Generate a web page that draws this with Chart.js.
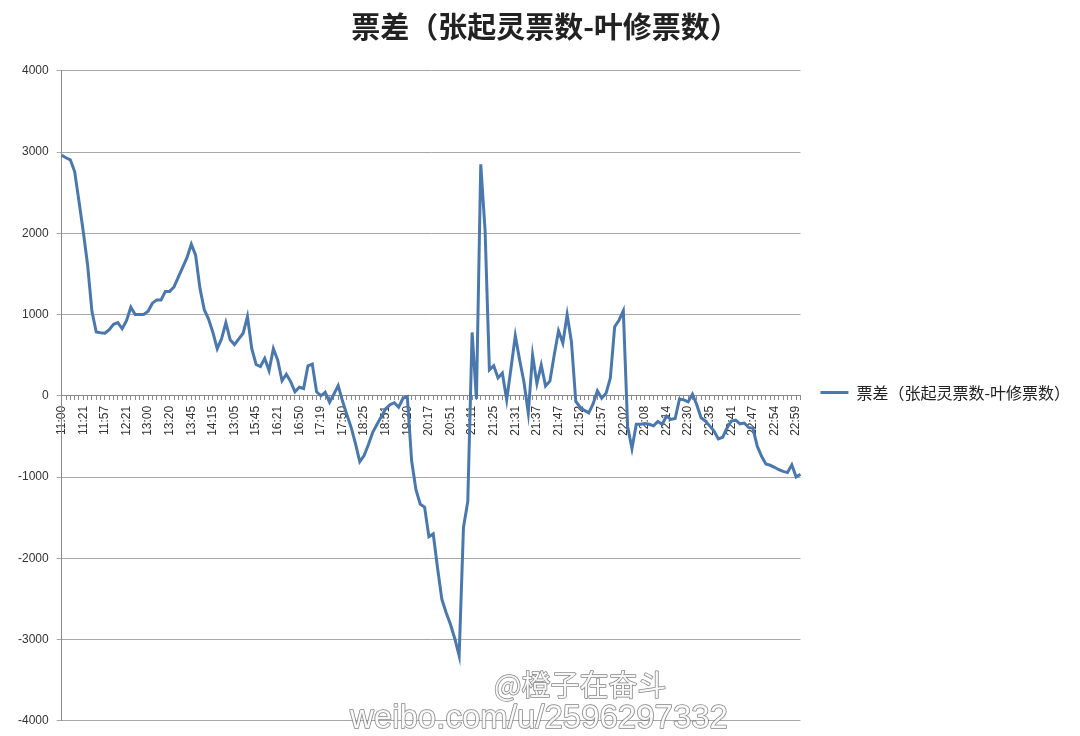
<!DOCTYPE html>
<html>
<head>
<meta charset="utf-8">
<script src="https://cdn.jsdelivr.net/npm/chart.js@4.4.1/dist/chart.umd.min.js"></script>
<style>
  html, body { margin: 0; padding: 0; background: #fff; }
  #wrap { width: 1080px; height: 736px; }
</style>
</head>
<body>
<div id="wrap"><canvas id="myChart"></canvas></div>
<script>
// tick labels shown on the time axis, one every 5 samples
var tickLabels = ["11:00", "11:21", "11:57", "12:21", "13:00", "13:20", "13:45", "14:15", "13:05",
  "15:45", "16:21", "16:50", "17:19", "17:50", "18:25", "18:51", "19:20", "20:17", "20:51",
  "21:11", "21:25", "21:31", "21:37", "21:47", "21:52", "21:57", "22:02", "22:08", "22:14",
  "22:30", "22:35", "22:41", "22:47", "22:54", "22:59"];
var labelStep = 5;

// 票差 values
var voteGap = [
  2960, 2930, 2905, 2760, 2395, 2020, 1610, 1040, 785, 775,
  770, 815, 880, 900, 825, 925, 1090, 1000, 1000, 1000,
  1040, 1140, 1180, 1180, 1285, 1285, 1340, 1460, 1580, 1700,
  1865, 1730, 1325, 1060, 945, 780, 580, 700, 900, 690,
  630, 700, 770, 975, 580, 385, 360, 460, 310, 580,
  440, 185, 265, 175, 50, 105, 90, 370, 390, 50,
  0, 45, -80, 20, 125, -65, -230, -390, -590, -810,
  -735, -600, -450, -350, -255, -160, -110, -85, -140, -30,
  -10, -800, -1155, -1335, -1370, -1735, -1700, -2120, -2505, -2670,
  -2815, -2990, -3200, -1620, -1300, 780, -40, 2850, 2040, 320,
  370, 220, 280, -50, 340, 740, 440, 170, -210, 500,
  150, 380, 120, 180, 500, 800, 650, 1000, 660, -70,
  -140, -180, -210, -100, 60, -30, 30, 220, 850, 930,
  1045, -380, -650, -350, -350, -340, -350, -370, -315, -350,
  -250, -290, -280, -40, -50, -75, 20, -110, -270, -310,
  -370, -435, -530, -510, -395, -310, -300, -345, -335, -390,
  -400, -620, -745, -840, -855, -880, -910, -930, -945, -850,
  -1000, -965
];

var seriesName = "票差（张起灵票数-叶修票数）";
var yTicks = [-4000, -3000, -2000, -1000, 0, 1000, 2000, 3000, 4000];

var labels = voteGap.map(function (v, i) {
  return i % labelStep === 0 ? (tickLabels[i / labelStep] || "") : "";
});

var lineColor = "#4a78ac";

// weibo watermark drawn over the picture
var watermark = {
  id: "watermark",
  afterDraw: function (chart) {
    var c = chart.ctx;
    c.save();
    c.lineJoin = "round";
    c.textAlign = "left";
    c.textBaseline = "alphabetic";
    c.fillStyle = "rgba(255,255,255,0.9)";
    c.strokeStyle = "rgba(90,90,90,0.75)";
    c.lineWidth = 1.5;
    c.font = "29px 'Noto Sans CJK SC'";
    c.strokeText("@橙子在奋斗", 494, 696);
    c.fillText("@橙子在奋斗", 494, 696);
    c.font = "33px 'Liberation Sans'";
    c.strokeText("weibo.com/u/2596297332", 350, 728);
    c.fillText("weibo.com/u/2596297332", 350, 728);
    c.restore();
  }
};

var ctx = document.getElementById("myChart").getContext("2d");
var gapChart = new Chart(ctx, {
  type: "line",
  data: {
    labels: labels,
    datasets: [
      {
        label: seriesName,
        data: voteGap,
        borderColor: lineColor,
        backgroundColor: lineColor,
        borderWidth: 3,
        pointRadius: 0,
        tension: 0,
      },
    ],
  },
  plugins: [watermark],
  options: {
    responsive: true,
    maintainAspectRatio: false,
    animation: false,
    layout: { padding: { left: 10, right: 0, top: 0, bottom: 14 } },
    plugins: {
      title: {
        display: true,
        text: seriesName,
        color: "#222",
        font: { family: "'Noto Sans CJK SC'", size: 29, weight: "bold" },
        padding: { top: 10, bottom: 26 },
      },
      legend: {
        position: "right",
        maxWidth: 280,
        // empty legend title only pushes the entry down to the middle
        title: {
          display: true,
          text: " ",
          font: { size: 16 },
          padding: { top: 0, bottom: 44 },
        },
        labels: {
          usePointStyle: true,
          pointStyle: "line",
          pointStyleWidth: 28,
          color: "#222",
          font: { family: "'Noto Sans CJK SC'", size: 16 },
          padding: 20,
        },
      },
      tooltip: { enabled: false },
    },
    scales: {
      x: {
        type: "category",
        position: { y: 0 },
        offset: false,
        afterFit: function (scale) {
          scale.height = 0;
        },
        grid: {
          drawOnChartArea: false,
          drawTicks: true,
          tickLength: 4,
          color: "#8a8a8a",
        },
        border: { color: "#8a8a8a", width: 1 },
        ticks: {
          autoSkip: false,
          maxRotation: 90,
          minRotation: 90,
          padding: 6,
          color: "#333",
          font: { family: "'Liberation Sans'", size: 12 },
        },
      },
      y: {
        min: -4000,
        max: 4000,
        afterBuildTicks: function (scale) {
          scale.ticks = yTicks.map(function (v) { return { value: v }; });
        },
        grid: { color: "#a8a8a8", tickLength: 5 },
        border: { color: "#8a8a8a", width: 1 },
        ticks: {
          padding: 8,
          color: "#333",
          font: { family: "'Liberation Sans'", size: 12 },
          callback: function (v) { return String(v); },
        },
      },
    },
  },
});
</script>
</body>
</html>
